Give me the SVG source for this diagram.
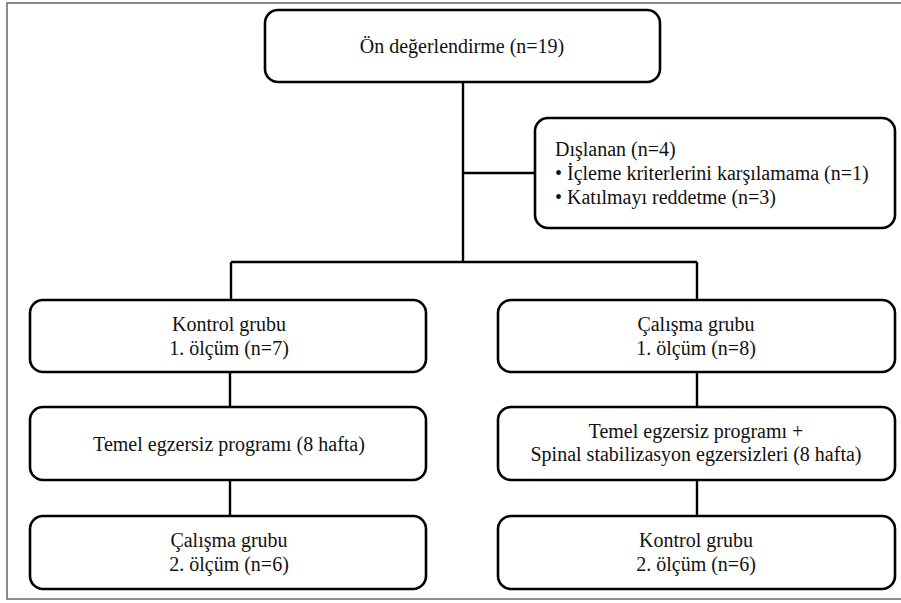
<svg xmlns="http://www.w3.org/2000/svg" width="901" height="603" viewBox="0 0 901 603">
<style>
.box{fill:#fff;stroke:#000;stroke-width:2.6}
text{font-family:'Liberation Serif','Times New Roman',Times,serif;font-size:20px;fill:#111}
.c{text-anchor:middle}
.ln{stroke:#000;stroke-width:2.4;fill:none}
</style>
<rect x="7" y="3" width="900" height="596" fill="#fff" stroke="#666" stroke-width="1.5"/>
<g id="connectors">
<path class="ln" d="M463 82 V262 M463 173 H535 M231 262 H697 M231 262 V300 M697 262 V300 M230 372 V407 M697 372 V407 M230 480 V516 M697 480 V516"/>
</g>
<g font-family="Liberation Serif, serif">
<g id="n-on">
<rect class="box" x="265" y="10" width="395" height="72" rx="13"/>
<text class="c" x="462" y="53">Ön değerlendirme (n=19)</text>
</g>
<g id="n-dislanan">
<rect class="box" x="535" y="118" width="360" height="110" rx="13"/>
<text x="555" y="156">Dışlanan (n=4)</text>
<text x="555" y="180">• İçleme kriterlerini karşılamama (n=1)</text>
<text x="555" y="204">• Katılmayı reddetme (n=3)</text>
</g>
<g id="n-kontrol1">
<rect class="box" x="30" y="300" width="396" height="72" rx="13"/>
<text class="c" x="229" y="331">Kontrol grubu</text>
<text class="c" x="229" y="355">1. ölçüm (n=7)</text>
</g>
<g id="n-calisma1">
<rect class="box" x="498" y="300" width="397" height="72" rx="13"/>
<text class="c" x="696" y="331">Çalışma grubu</text>
<text class="c" x="696" y="355">1. ölçüm (n=8)</text>
</g>
<g id="n-temel">
<rect class="box" x="30" y="407" width="396" height="73" rx="13"/>
<text class="c" x="229" y="451">Temel egzersiz programı (8 hafta)</text>
</g>
<g id="n-spinal">
<rect class="box" x="498" y="407" width="397" height="73" rx="13"/>
<text class="c" x="696" y="438">Temel egzersiz programı +</text>
<text class="c" x="696" y="461">Spinal stabilizasyon egzersizleri (8 hafta)</text>
</g>
<g id="n-calisma2">
<rect class="box" x="30" y="516" width="396" height="73" rx="13"/>
<text class="c" x="229" y="547">Çalışma grubu</text>
<text class="c" x="229" y="571">2. ölçüm (n=6)</text>
</g>
<g id="n-kontrol2">
<rect class="box" x="498" y="516" width="397" height="73" rx="13"/>
<text class="c" x="696" y="547">Kontrol grubu</text>
<text class="c" x="696" y="571">2. ölçüm (n=6)</text>
</g>
</g>
</svg>
